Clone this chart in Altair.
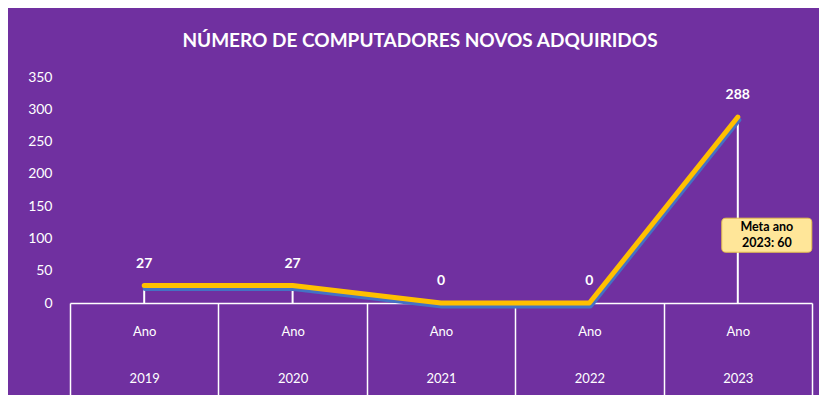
import altair as alt
import pandas as pd

years = ["2019", "2020", "2021", "2022", "2023"]
values = [27, 27, 0, 0, 288]
y_ticks = [0, 50, 100, 150, 200, 250, 300, 350]
goal_year = ["2023"]
goal_pos = [105]
goal_text = ["Meta ano\n2023: 60"]
title_text = "NÚMERO DE COMPUTADORES NOVOS ADQUIRIDOS"

df = pd.DataFrame({"year": years, "value": values})
goal = pd.DataFrame({"year": goal_year, "pos": goal_pos, "txt": goal_text})

FONT = "Lato"
xscale = alt.Scale(type="band", paddingInner=0, paddingOuter=0)
xaxis = alt.Axis(
    title=None,
    orient="bottom",
    tickBand="extent",
    ticks=True,
    tickSize=95,
    tickColor="white",
    tickWidth=1.5,
    domainColor="white",
    domainWidth=1.5,
    labelAngle=0,
    labelColor="white",
    labelFont=FONT,
    labelFontSize=13,
    labelExpr="test(/^[0-9]{4}$/, datum.label + '') ? ['Ano', datum.label] : ''",
    labelLineHeight=47,
    labelPadding=-73,
    labelBaseline="top",
)
yscale = alt.Scale(domain=[0, 350], nice=False)
yaxis = alt.Axis(
    title=None,
    values=y_ticks,
    domain=False,
    ticks=False,
    grid=False,
    labelOverlap=False,
    labelColor="white",
    labelFont=FONT,
    labelFontSize=14,
    labelPadding=18,
)

base = alt.Chart(df).encode(
    x=alt.X("year:N", sort=years, scale=xscale, axis=xaxis),
    y=alt.Y("value:Q", scale=yscale, axis=yaxis),
)

drops = base.transform_filter("datum.value > 0").mark_rule(
    color="white", strokeWidth=2
).encode(y2=alt.datum(0))

blue = base.mark_line(
    color="#4472C4", strokeWidth=5, strokeCap="round", strokeJoin="round",
    xOffset=1, yOffset=3,
)
yellow = base.mark_line(
    color="#FFC000", strokeWidth=5, strokeCap="round", strokeJoin="round"
)
labels = base.mark_text(
    dy=-22, color="white", font=FONT, fontSize=14, fontWeight="bold"
).encode(text="value:Q")

box_path = ("M-0.91,-0.378 L0.91,-0.378 Q1,-0.378 1,-0.29 L1,0.29 "
            "Q1,0.378 0.91,0.378 L-0.91,0.378 Q-1,0.378 -1,0.29 "
            "L-1,-0.29 Q-1,-0.378 -0.91,-0.378 Z")
gbase = alt.Chart(goal).encode(
    x=alt.X("year:N", sort=years, scale=xscale, axis=xaxis),
    y=alt.Y("pos:Q", scale=yscale, axis=yaxis),
)
box = gbase.mark_point(
    shape=box_path, size=8100, filled=True, fill="#FFE699", stroke="#E8C24A",
    strokeWidth=1, opacity=1, xOffset=29,
)
gtext = gbase.mark_text(
    xOffset=29, dy=-8, color="black", font=FONT, fontSize=12.5, fontWeight="bold",
    lineBreak="\n", lineHeight=16, baseline="middle",
).encode(text="txt:N")

chart = alt.layer(drops, blue, yellow, labels, box, gtext).properties(
    width=742,
    height=226,
    background="#7030A0",
    padding={"left": 62, "top": 69, "right": 7, "bottom": 92},
    autosize=alt.AutoSizeParams(type="none"),
    title=alt.Title(
        title_text,
        color="white",
        font=FONT,
        fontSize=19,
        fontWeight="bold",
        anchor="middle",
        dx=-21,
        offset=19,
    ),
).configure_view(stroke=None)

chart.save("out.html", embed_options={"renderer": "svg", "actions": False})
